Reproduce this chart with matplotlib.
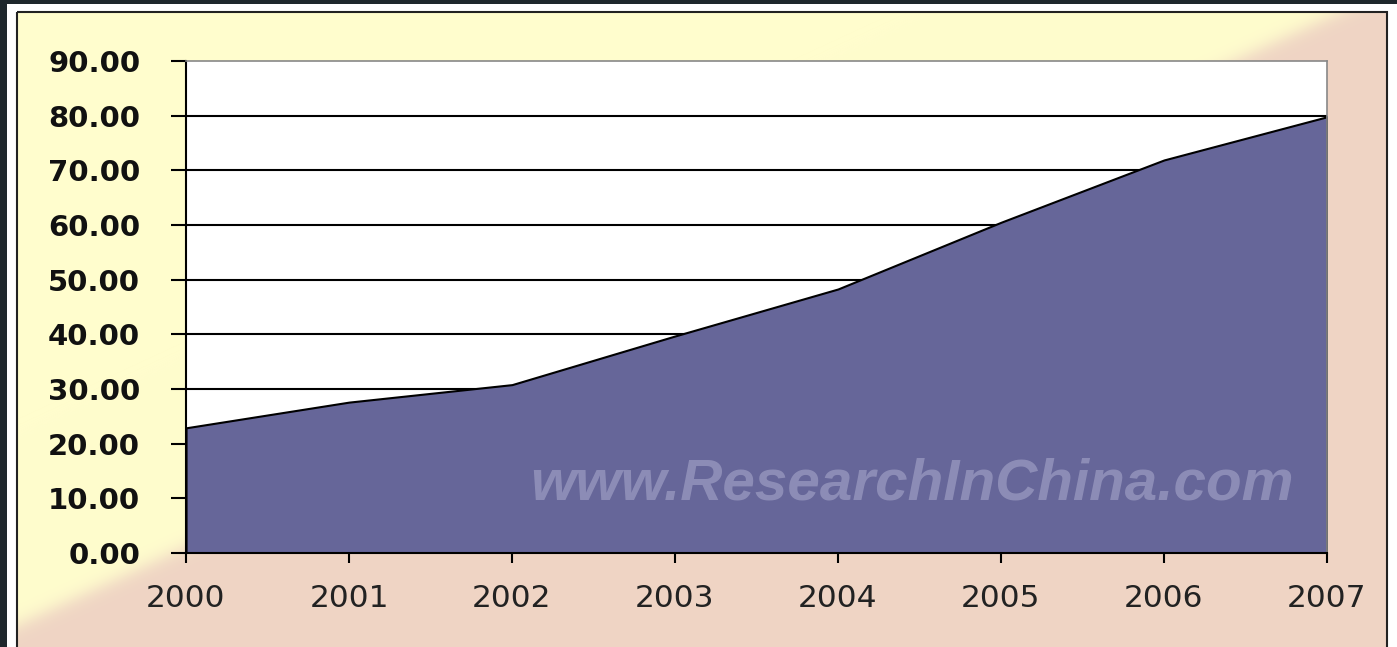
import numpy as np
import matplotlib
matplotlib.use("Agg")
import matplotlib.pyplot as plt
from matplotlib.patches import Rectangle

years = ["2000", "2001", "2002", "2003", "2004", "2005", "2006", "2007"]
values = [22.9, 27.6, 30.8, 39.7, 48.3, 60.5, 71.9, 79.8]
y_ticks = [0, 10, 20, 30, 40, 50, 60, 70, 80, 90]
y_tick_labels = ["%.2f" % v for v in y_ticks]
watermark = "www.ResearchInChina.com"

W, H = 1397, 647
fig = plt.figure(figsize=(W / 100, H / 100), dpi=100)
fig.patch.set_facecolor("#1e272c")

# background axes in pixel coordinates
bg = fig.add_axes([0, 0, 1, 1])
bg.add_patch(Rectangle((7, 4), W - 7, H, facecolor="white", edgecolor="none", zorder=0))

# diagonal yellow / pink background
x0, y0, x1, y1 = 17, 12, 1387, H + 5
xs = np.arange(x0, x1) + 0.5
ys = np.arange(y0, y1) + 0.5
X, Y = np.meshgrid(xs, ys)
# boundary line through (173,553) and (1340,12)
ax_, ay_ = 173.0, 553.0
bx_, by_ = 1340.0, 12.0
dx, dy = bx_ - ax_, by_ - ay_
cross = (dx * (Y - ay_) - dy * (X - ax_)) / np.hypot(dx, dy)  # >0 below/right
t = 1 / (1 + np.exp(-cross / 5.0))
yellow = np.array([255, 253, 205]) / 255
pink = np.array([239, 212, 196]) / 255
img = yellow[None, None, :] * (1 - t[..., None]) + pink[None, None, :] * t[..., None]
bg.imshow(img, extent=(x0, x1, y1, y0), aspect="auto", interpolation="bilinear", zorder=1)
bg.add_patch(Rectangle((x0, y0), x1 - x0, y1 - y0, facecolor="none",
                       edgecolor="#222222", linewidth=1.5, zorder=2))
bg.set_xlim(0, W)
bg.set_ylim(H, 0)
bg.axis("off")

# main plot axes
L, R, T, B = 186, 1327, 61, 553
ax = fig.add_axes([L / W, 1 - B / H, (R - L) / W, (B - T) / H])
ax.set_facecolor("white")
xpos = np.arange(len(years))
ax.set_xlim(0, len(years) - 1)
ax.set_ylim(0, 90)

for v in y_ticks[1:-1]:
    ax.axhline(v, color="black", linewidth=1.5, zorder=1)

ax.fill_between(xpos, 0, values, facecolor="#666699", edgecolor="black",
                linewidth=1.5, zorder=2)

ax.text(4.454, 12.5, watermark, fontsize=42, fontweight="bold", fontstyle="italic",
        family="Liberation Sans", color="#9a9ac0", alpha=0.75,
        ha="center", va="center", zorder=3)

ax.set_yticks(y_ticks)
ax.set_yticklabels(y_tick_labels, fontsize=21, fontweight="bold", color="#111111")
ax.set_xticks(xpos)
ax.set_xticklabels(years, fontsize=22.5, color="#222222")
ax.tick_params(axis="y", direction="out", length=11, width=1.5, pad=22, colors="black")
ax.tick_params(axis="x", direction="out", length=7, width=1.5, pad=15, colors="black")
for lab in ax.get_xticklabels():
    lab.set_color("#222222")
for lab in ax.get_yticklabels():
    lab.set_color("#111111")

ax.spines["left"].set_color("black")
ax.spines["left"].set_linewidth(1.5)
ax.spines["bottom"].set_color("black")
ax.spines["bottom"].set_linewidth(1.5)
ax.spines["top"].set_color("#888888")
ax.spines["right"].set_color("#888888")
ax.spines["top"].set_linewidth(1.2)
ax.spines["right"].set_linewidth(1.2)
for s in ax.spines.values():
    s.set_zorder(4)

fig.savefig("out.png", dpi=100, facecolor=fig.get_facecolor())
